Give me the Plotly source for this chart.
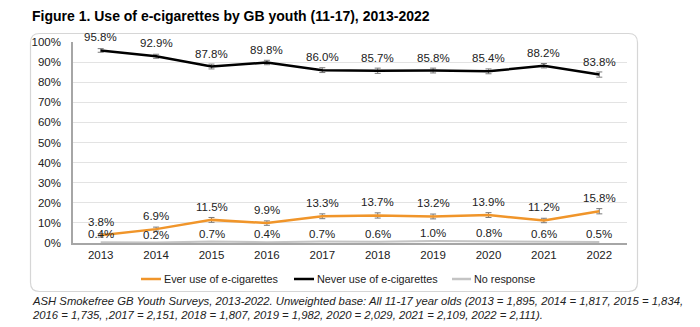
import plotly.graph_objects as go

# Survey years and headline percentages
years = ["2013", "2014", "2015", "2016", "2017", "2018", "2019", "2020", "2021", "2022"]
ever_use = [3.8, 6.9, 11.5, 9.9, 13.3, 13.7, 13.2, 13.9, 11.2, 15.8]
never_use = [95.8, 92.9, 87.8, 89.8, 86.0, 85.7, 85.8, 85.4, 88.2, 83.8]
no_response = [0.4, 0.2, 0.7, 0.4, 0.7, 0.6, 1.0, 0.8, 0.6, 0.5]

# Confidence interval half-widths (percentage points)
ever_ci = [0.9, 1.0, 1.2, 1.1, 1.2, 1.3, 1.2, 1.2, 1.1, 1.3]
never_ci = [0.9, 1.0, 1.2, 1.1, 1.2, 1.3, 1.2, 1.2, 1.1, 1.3]

series_names = ["Ever use of e-cigarettes", "Never use of e-cigarettes", "No response"]
series_colors = ["#F0952A", "#000000", "#C4C4C4"]

title_text = "Figure 1. Use of e-cigarettes by GB youth (11-17), 2013-2022"
footer_lines = [
    "ASH Smokefree GB Youth Surveys, 2013-2022. Unweighted base: All 11-17 year olds (2013 = 1,895, 2014 = 1,817, 2015 = 1,834,",
    "2016 = 1,735, ,2017 = 2,151, 2018 = 1,807, 2019 = 1,982, 2020 = 2,029, 2021 = 2,109, 2022 = 2,111).",
]

W, H = 700, 327
PL, PR, PT, PB = 73, 627, 42, 243  # plot-area pixel box

def px(x):
    return (x - PL) / (PR - PL)

def py(y):
    return (PB - y) / (PB - PT)

BASE_FONT = "Liberation Sans, Arial, sans-serif"

fig = go.Figure()

fig.add_trace(go.Scatter(
    x=years, y=no_response, mode="lines", name=series_names[2],
    line=dict(color=series_colors[2], width=2), cliponaxis=False,
))
fig.add_trace(go.Scatter(
    x=years, y=ever_use, mode="lines", name=series_names[0],
    line=dict(color=series_colors[0], width=2.5),
    error_y=dict(type="data", array=ever_ci, color="#7a7a7a", thickness=1, width=3),
    cliponaxis=False,
))
fig.add_trace(go.Scatter(
    x=years, y=never_use, mode="lines", name=series_names[1],
    line=dict(color=series_colors[1], width=2.5),
    error_y=dict(type="data", array=never_ci, color="#7a7a7a", thickness=1, width=3),
    cliponaxis=False,
))

annotations = []
label_font = dict(family=BASE_FONT, size=11.5, color="#222222")
for vals, shift in ((ever_use, 13), (never_use, 13), (no_response, 8)):
    for i, v in enumerate(vals):
        # category axis: position by category index
        annotations.append(dict(
            x=i, y=v, xref="x", yref="y", text=f"{v:.1f}%", showarrow=False,
            yshift=shift, yanchor="middle", font=label_font,
        ))

# Title
annotations.append(dict(
    x=px(30), y=py(16), xref="paper", yref="paper", xanchor="left", yanchor="middle",
    text=f"<b>{title_text}</b>", showarrow=False,
    font=dict(family=BASE_FONT, size=14, color="#000000"),
))

# Footer note
for i, line in enumerate(footer_lines):
    annotations.append(dict(
        x=px(30), y=py(301 + 14 * i), xref="paper", yref="paper",
        xanchor="left", yanchor="middle", text=f"<i>{line}</i>", showarrow=False,
        font=dict(family=BASE_FONT, size=11.3, color="#222222"),
    ))

shapes = []
# Rounded frame around the chart
L, R, T, B, r = 30.5, 637.5, 33.5, 291.5, 9
path = (
    f"M {px(L + r)},{py(T)} L {px(R - r)},{py(T)} Q {px(R)},{py(T)} {px(R)},{py(T + r)} "
    f"L {px(R)},{py(B - r)} Q {px(R)},{py(B)} {px(R - r)},{py(B)} "
    f"L {px(L + r)},{py(B)} Q {px(L)},{py(B)} {px(L)},{py(B - r)} "
    f"L {px(L)},{py(T + r)} Q {px(L)},{py(T)} {px(L + r)},{py(T)} Z"
)
shapes.append(dict(type="path", path=path, xref="paper", yref="paper",
                   line=dict(color="#d6d6d6", width=1.2), layer="below"))

# Legend keys
legend_items = [(141, 161, 0), (294, 314, 1), (452, 471, 2)]
for x0, x1, k in legend_items:
    shapes.append(dict(type="line", xref="paper", yref="paper",
                       x0=px(x0), x1=px(x1), y0=py(279), y1=py(279),
                       line=dict(color=series_colors[k], width=2.5)))
    annotations.append(dict(
        x=px(x1 + 1), y=py(279), xref="paper", yref="paper", xanchor="left",
        yanchor="middle", text=series_names[k], showarrow=False,
        font=dict(family=BASE_FONT, size=10.8, color="#222222"),
    ))

fig.update_layout(
    width=W, height=H,
    margin=dict(l=PL, r=W - PR, t=PT, b=H - PB, pad=0),
    paper_bgcolor="white", plot_bgcolor="white",
    showlegend=False,
    annotations=annotations, shapes=shapes,
    font=dict(family=BASE_FONT, color="#222222"),
)
fig.update_xaxes(
    type="category", range=[-0.5, 9.5], showgrid=False,
    showline=True, linecolor="#a6a6a6", linewidth=1.5,
    ticks="", tickfont=dict(family=BASE_FONT, size=11.5, color="#222222"),
)
fig.update_yaxes(
    range=[0, 100], dtick=10, ticksuffix="%",
    showgrid=True, gridcolor="#e3e3e3", gridwidth=1,
    showline=True, linecolor="#a6a6a6", linewidth=1.5,
    ticks="outside", ticklen=8, tickcolor="rgba(0,0,0,0)",
    tickfont=dict(family=BASE_FONT, size=11.5, color="#222222"),
    zeroline=False,
)

fig.write_html("out.html")
